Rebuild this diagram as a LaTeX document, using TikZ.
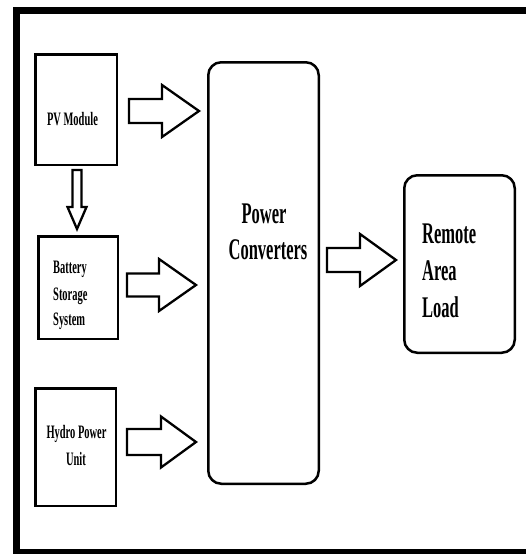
\documentclass[tikz,border=0pt]{standalone}
\usepackage{fontspec}
\newfontfamily\tnr{Liberation Serif}[FakeStretch=0.55]
\usetikzlibrary{calc}
\tikzset{
  box/.style={draw, line width=2.5pt, inner sep=0pt},
  rbox/.style={box, rounded corners=13pt},
  blk/.style={draw, line width=2.3pt, line join=miter, fill=white},
  big/.style={font=\tnr\bfseries\fontsize{30}{36}\selectfont, inner sep=0pt},
  small/.style={font=\tnr\bfseries\fontsize{19}{26}\selectfont, inner sep=0pt},
}
\newcommand{\harrow}[5]{\draw[blk] let \p1=(#1), \p2=(#2) in
  (\x1,\y1+#3) -- (\x2-#5,\y1+#3) -- (\x2-#5,\y1+#4) -- (\x2,\y1) --
  (\x2-#5,\y1-#4) -- (\x2-#5,\y1-#3) -- (\x1,\y1-#3) -- cycle;}
\newcommand{\varrow}[5]{\draw[blk] let \p1=(#1), \p2=(#2) in
  (\x1-#3,\y1) -- (\x1+#3,\y1) -- (\x1+#3,\y2+#5) -- (\x1+#4,\y2+#5) --
  (\x1,\y2) -- (\x1-#4,\y2+#5) -- (\x1-#3,\y2+#5) -- cycle;}
\begin{document}
\begin{tikzpicture}[x=1pt,y=-1pt]
\useasboundingbox (0,0) rectangle (526,554);
\fill[white] (0,0) rectangle (526,554);
\draw[line width=7pt] (540,10) -- (16.5,10) -- (16.5,552) -- (540,552);

% boxes
\node[box, minimum width=81.5pt, minimum height=110.5pt] (pv) at (76,109.5) {};
\node[box, minimum width=79.5pt, minimum height=102.5pt] (bat) at (78,287.5) {};
\node[box, minimum width=80.5pt, minimum height=117.5pt] (hyd) at (75.5,447) {};
\node[rbox, minimum width=110.5pt, minimum height=421.5pt] (pc) at (263.5,273) {};
\node[rbox, minimum width=110.5pt, minimum height=177.5pt] (ral) at (459.5,264) {};

% texts
\node[small, anchor=base] (pvt) at (72.5,125) {PV Module};
\node[small, anchor=base west] (bt1) at (53,273) {Battery};
\node[small, anchor=base west] (bt2) at (53,300) {Storage};
\node[small, anchor=base west] (bt3) at (53,325) {System};
\node[small, anchor=base] (ht1) at (76.5,438) {Hydro Power};
\node[small, anchor=base] (ht2) at (76,465) {Unit};
\node[big, anchor=base] (pct1) at (264,223) {Power};
\node[big, anchor=base] (pct2) at (268,259) {Converters};
\node[big, anchor=base west] (rt1) at (422,243) {Remote};
\node[big, anchor=base west] (rt2) at (422,280) {Area};
\node[big, anchor=base west] (rt3) at (422,317) {Load};

% block arrows
\harrow{$(pv.east)+(11,1.5)$}{$(pc.west)+(-8,0)$}{12pt}{26pt}{37pt}
\harrow{$(bat.east)+(8,-2.5)$}{$(pc.west)+(-11,0)$}{11.5pt}{26pt}{37pt}
\harrow{$(hyd.east)+(10,-5)$}{$(pc.west)+(-11,0)$}{13pt}{25.5pt}{35pt}
\harrow{$(pc.east)+(7,-13)$}{$(ral.west)+(-7,0)$}{12pt}{26pt}{36pt}
\varrow{$(pv.south)+(1,4)$}{$(bat.north)+(0,-6)$}{4.5pt}{9.5pt}{22pt}
\end{tikzpicture}
\end{document}
